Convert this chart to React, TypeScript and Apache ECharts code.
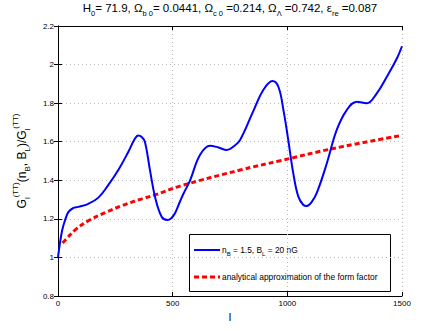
import React, { useEffect, useRef } from "react";
import * as echarts from "echarts";

const BLUE_L = [0, 8, 18, 30, 45, 65, 89, 132, 176, 219, 263, 307, 335, 350, 365, 379, 401, 423, 452, 477, 495, 510, 532, 547, 576, 619, 663, 700, 736, 765, 794, 852, 895, 935, 961, 983, 1004, 1026, 1048, 1070, 1085, 1105, 1128, 1172, 1215, 1259, 1303, 1346, 1390, 1434, 1477, 1500];
const BLUE_V = [1.0, 1.07, 1.14, 1.19, 1.235, 1.255, 1.262, 1.278, 1.31, 1.375, 1.453, 1.548, 1.615, 1.632, 1.625, 1.6, 1.453, 1.315, 1.211, 1.194, 1.205, 1.229, 1.29, 1.33, 1.4, 1.531, 1.579, 1.57, 1.557, 1.575, 1.609, 1.76, 1.868, 1.915, 1.885, 1.764, 1.609, 1.436, 1.315, 1.272, 1.267, 1.285, 1.333, 1.487, 1.66, 1.764, 1.807, 1.799, 1.851, 1.937, 2.03, 2.095];

const RED_L = [20, 40, 74, 132, 205, 278, 350, 423, 532, 794, 968, 1201, 1500];
const RED_V = [1.075, 1.1, 1.142, 1.19, 1.232, 1.268, 1.298, 1.324, 1.37, 1.453, 1.501, 1.565, 1.633];

const X_MIN = 0, X_MAX = 1500, X_STEP = 500;
const Y_MIN = 0.8, Y_MAX = 2.2, Y_STEP = 0.2;

const BLUE_LABEL = "{a|n}{s|B}{a| = 1.5, B}{s|L}{a| = 20 nG}";
const RED_LABEL = "{a|analytical approximation of the form factor}";

const FONT = "Liberation Sans, Arial, Helvetica, sans-serif";

export default function App() {
  const ref = useRef<HTMLDivElement>(null);
  useEffect(() => {
    if (!ref.current) return;
    const chart = echarts.init(ref.current, null, { renderer: "svg" });
    const tickAxis = {
      axisLine: { show: true, lineStyle: { color: "#000", width: 1 } },
      axisTick: { show: true, inside: true, length: 4, lineStyle: { color: "#000" } },
    };
    const legendRich = {
      a: { fontSize: 8.4, lineHeight: 14, fill: "#000", color: "#000", fontFamily: FONT },
      s: { fontSize: 6, lineHeight: 7, verticalAlign: "bottom", fill: "#000", color: "#000", fontFamily: FONT },
    };
    chart.setOption({
      animation: false,
      backgroundColor: "#fff",
      textStyle: { fontFamily: FONT },
      title: {
        text: "{a|H}{s|0}{a|= 71.9, Ω}{s|b 0}{a|= 0.0441, Ω}{s|c 0}{a| =0.214, Ω}{s|Λ}{a| =0.742, ε}{s|re}{a| =0.087}",
        left: 230,
        textAlign: "center",
        top: -1,
        padding: 0,
        textStyle: {
          fontFamily: FONT,
          fontWeight: "normal",
          color: "#000",
          rich: {
            a: { fontSize: 11.5, lineHeight: 18, color: "#000", fontFamily: FONT },
            s: { fontSize: 7.5, lineHeight: 9, verticalAlign: "bottom", color: "#000", fontFamily: FONT },
          },
        },
      },
      grid: { left: 58, right: 42, top: 26, bottom: 37 },
      xAxis: [
        {
          type: "value",
          position: "bottom",
          min: X_MIN,
          max: X_MAX,
          interval: X_STEP,
          ...tickAxis,
          axisLabel: { fontSize: 8, color: "#000", margin: 3, fontFamily: FONT, formatter: (v: number) => String(v) },
          splitLine: { show: true, lineStyle: { color: "#b8b8b8", type: [1, 3], width: 1 } },
          name: "l",
          nameLocation: "middle",
          nameGap: 11,
          nameTextStyle: { fontSize: 11, color: "#000", fontFamily: FONT },
        },
        {
          type: "value",
          position: "top",
          min: X_MIN,
          max: X_MAX,
          interval: X_STEP,
          ...tickAxis,
          axisLabel: { show: false },
          splitLine: { show: false },
        },
      ],
      yAxis: [
        {
          type: "value",
          position: "left",
          min: Y_MIN,
          max: Y_MAX,
          interval: Y_STEP,
          ...tickAxis,
          axisLabel: { fontSize: 8, color: "#000", margin: 4, fontFamily: FONT, formatter: (v: number) => String(Math.round(v * 10) / 10) },
          splitLine: { show: true, lineStyle: { color: "#b8b8b8", type: [1, 3], width: 1 } },
          name: "{a|G}{s|l}{p|(TT)}{a|(n}{s|B}{a|, B}{s|L}{a|)/G}{s|l}{p|(TT)}",
          nameLocation: "middle",
          nameGap: 19,
          nameTextStyle: {
            fontFamily: FONT,
            color: "#000",
            rich: {
              a: { fontSize: 12, lineHeight: 20, color: "#000", fontFamily: FONT },
              s: { fontSize: 8, lineHeight: 9, verticalAlign: "bottom", color: "#000", fontFamily: FONT },
              p: { fontSize: 8, lineHeight: 9, verticalAlign: "top", color: "#000", fontFamily: FONT },
            },
          },
        },
        {
          type: "value",
          position: "right",
          min: Y_MIN,
          max: Y_MAX,
          interval: Y_STEP,
          ...tickAxis,
          axisLabel: { show: false },
          splitLine: { show: false },
        },
      ],
      graphic: [
        {
          type: "group",
          z: 100,
          children: [
            {
              type: "rect",
              shape: { x: 189.5, y: 234.5, width: 201, height: 57 },
              style: { fill: "#fff", stroke: "#000", lineWidth: 1 },
            },
            {
              type: "line",
              shape: { x1: 194, y1: 250, x2: 220, y2: 250 },
              style: { stroke: "#0000ff", lineWidth: 2 },
            },
            {
              type: "text",
              x: 222,
              y: 250,
              style: { text: BLUE_LABEL, rich: legendRich, verticalAlign: "middle", align: "left", fill: "#000", font: "8.4px " + FONT },
            },
            {
              type: "line",
              shape: { x1: 194, y1: 277, x2: 220, y2: 277 },
              style: { stroke: "#ff0000", lineWidth: 3, lineDash: [5, 3] },
            },
            {
              type: "text",
              x: 222,
              y: 277,
              style: { text: RED_LABEL, rich: legendRich, verticalAlign: "middle", align: "left", fill: "#000", font: "8.4px " + FONT },
            },
          ],
        },
      ],
      series: [
        {
          name: "nB = 1.5, BL = 20 nG",
          type: "line",
          data: BLUE_L.map((l, i) => [l, BLUE_V[i]]),
          symbol: "none",
          smooth: 0.4,
          lineStyle: { color: "#0000ff", width: 2 },
          itemStyle: { color: "#0000ff" },
          z: 3,
        },
        {
          name: "analytical approximation of the form factor",
          type: "line",
          data: RED_L.map((l, i) => [l, RED_V[i]]),
          symbol: "none",
          smooth: 0.4,
          lineStyle: { color: "#ff0000", width: 3, type: [5, 3] },
          itemStyle: { color: "#ff0000" },
          z: 2,
        },
      ],
    });
    return () => chart.dispose();
  }, []);
  return <div ref={ref} style={{ width: 444, height: 333, position: "absolute", left: 0, top: 0 }} />;
}
